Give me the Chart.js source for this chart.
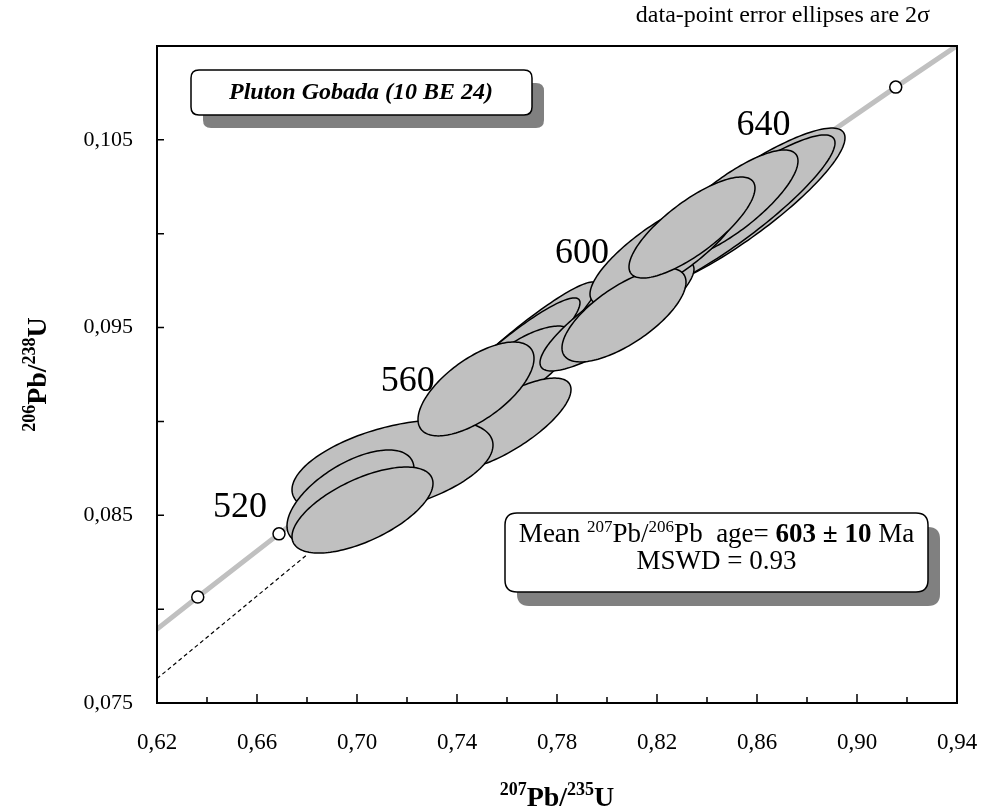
<!DOCTYPE html>
<html>
<head>
<meta charset="utf-8">
<script src="https://cdn.jsdelivr.net/npm/chart.js@4.4.0/dist/chart.umd.min.js"></script>
<style>
  html, body { margin: 0; padding: 0; background: #fff; }
  #wrap { width: 984px; height: 811px; position: relative; }
</style>
</head>
<body>
<div id="wrap"><canvas id="canvas"></canvas></div>
<script>
// concordia curve (age in Ma, 207Pb/235U, 206Pb/238U)
let concAges = [480, 500, 520, 540, 560, 580, 600, 620, 640, 660, 680];
let conc207 = [0.6044, 0.6363, 0.6688, 0.7020, 0.7359, 0.7704, 0.8056, 0.8416, 0.8782, 0.9155, 0.9537];
let conc206 = [0.07730, 0.08065, 0.08401, 0.08738, 0.09075, 0.09414, 0.09754, 0.10095, 0.10438, 0.10781, 0.11125];
let labelAges = [520, 560, 600, 640];

// zircon analyses, drawn back to front: ratio, 2 sigma, ratio, 2 sigma, rho
let r207 = [0.8512, 0.8492, 0.8492, 0.7598, 0.7572, 0.7660, 0.8040, 0.8232, 0.8068, 0.8340, 0.7594, 0.7142, 0.6974, 0.7022, 0.7476];
let e207 = [0.0440, 0.0420, 0.0272, 0.0362, 0.0320, 0.0208, 0.0308, 0.0300, 0.0248, 0.0252, 0.0262, 0.0402, 0.0254, 0.0282, 0.0232];
let r206 = [0.10126, 0.10100, 0.10153, 0.09322, 0.09285, 0.09298, 0.09562, 0.09913, 0.09567, 0.10033, 0.08986, 0.08755, 0.08595, 0.08528, 0.09173];
let e206 = [0.00437, 0.00426, 0.00293, 0.00421, 0.00373, 0.00210, 0.00293, 0.00293, 0.00250, 0.00269, 0.00245, 0.00253, 0.00253, 0.00229, 0.00250];
let rho = [0.88, 0.90, 0.80, 0.95, 0.93, 0.70, 0.85, 0.80, 0.70, 0.78, 0.75, 0.47, 0.60, 0.62, 0.65];

// dashed reference line
let dash207 = [0.62, 0.68];
let dash206 = [0.0763, 0.0829];

let xTickLabels = ['0,62', '0,66', '0,70', '0,74', '0,78', '0,82', '0,86', '0,90', '0,94'];
let yTickLabels = ['0,075', '0,085', '0,095', '0,105'];

let serif = '"Liberation Serif", "Times New Roman", serif';

let drawRich = function(ctx, parts, x, y) {
  let w = 0;
  for (let p of parts) { ctx.font = p.f; w += ctx.measureText(p.t).width; }
  let cx = x - w / 2;
  ctx.textAlign = 'left';
  ctx.textBaseline = 'alphabetic';
  for (let p of parts) {
    ctx.font = p.f;
    ctx.fillText(p.t, cx, y + (p.dy || 0));
    cx += ctx.measureText(p.t).width;
  }
}

let roundBox = function(ctx, x, y, w, h, r) {
  ctx.beginPath();
  ctx.moveTo(x + r, y);
  ctx.lineTo(x + w - r, y);
  ctx.quadraticCurveTo(x + w, y, x + w, y + r);
  ctx.lineTo(x + w, y + h - r);
  ctx.quadraticCurveTo(x + w, y + h, x + w - r, y + h);
  ctx.lineTo(x + r, y + h);
  ctx.quadraticCurveTo(x, y + h, x, y + h - r);
  ctx.lineTo(x, y + r);
  ctx.quadraticCurveTo(x, y, x + r, y);
  ctx.closePath();
}

let statParts = function() {
  return [
    { t: 'Mean ', f: '27px ' + serif },
    { t: '207', f: '17px ' + serif, dy: -10 },
    { t: 'Pb/', f: '27px ' + serif },
    { t: '206', f: '17px ' + serif, dy: -10 },
    { t: 'Pb  age= ', f: '27px ' + serif },
    { t: '603 \u00b1 10', f: 'bold 27px ' + serif },
    { t: ' Ma', f: '27px ' + serif }
  ];
}

let overlay = {
  id: 'overlay',
  afterDatasetsDraw(chart) {
    let ctx = chart.ctx, xs = chart.scales.x, ys = chart.scales.y, a = chart.chartArea;
    ctx.save();
    ctx.beginPath();
    ctx.rect(a.left, a.top, a.width, a.height);
    ctx.clip();
    // error ellipses
    for (let i = 0; i < r207.length; i++) {
      let c = Math.sqrt(1 - rho[i] * rho[i]);
      ctx.beginPath();
      for (let k = 0; k <= 160; k++) {
        let t = k / 160 * 2 * Math.PI;
        let px = xs.getPixelForValue(r207[i] + e207[i] * Math.cos(t));
        let py = ys.getPixelForValue(r206[i] + e206[i] * (rho[i] * Math.cos(t) + c * Math.sin(t)));
        if (k === 0) ctx.moveTo(px, py); else ctx.lineTo(px, py);
      }
      ctx.closePath();
      ctx.fillStyle = '#c0c0c0';
      ctx.fill();
      ctx.lineWidth = 1.5;
      ctx.strokeStyle = '#000';
      ctx.stroke();
    }
    ctx.restore();

    // age labels on the concordia
    ctx.save();
    ctx.fillStyle = '#000';
    ctx.font = '36px ' + serif;
    ctx.textAlign = 'center';
    ctx.textBaseline = 'middle';
    for (let age of labelAges) {
      let i = concAges.indexOf(age);
      let px = xs.getPixelForValue(conc207[i]);
      let py = ys.getPixelForValue(conc206[i]);
      ctx.fillText(String(age), px - 39, py - 26);
    }
    ctx.restore();
  },
  afterDraw(chart) {
    let ctx = chart.ctx, xs = chart.scales.x, ys = chart.scales.y, a = chart.chartArea;
    ctx.save();
    // frame
    ctx.strokeStyle = '#000';
    ctx.lineWidth = 2;
    ctx.strokeRect(a.left, a.top, a.width, a.height);
    // inward ticks
    ctx.lineWidth = 1.5;
    ctx.beginPath();
    for (let t of xs.ticks) {
      let px = xs.getPixelForValue(t.value);
      let major = Math.round(t.value * 100) % 4 === 2;
      ctx.moveTo(px, a.bottom);
      ctx.lineTo(px, a.bottom - (major ? 9 : 6));
    }
    for (let t of ys.ticks) {
      let py = ys.getPixelForValue(t.value);
      ctx.moveTo(a.left, py);
      ctx.lineTo(a.left + 7, py);
    }
    ctx.stroke();

    // title box
    ctx.fillStyle = '#808080';
    roundBox(ctx, 203, 83, 341, 45, 8);
    ctx.fill();
    ctx.fillStyle = '#fff';
    roundBox(ctx, 191, 70, 341, 45, 8);
    ctx.fill();
    ctx.lineWidth = 1.5;
    ctx.stroke();
    ctx.fillStyle = '#000';
    ctx.font = 'italic bold 24px ' + serif;
    ctx.textAlign = 'center';
    ctx.textBaseline = 'middle';
    ctx.fillText('Pluton Gobada (10 BE 24)', 361, 93);

    // stats box with its shadow
    ctx.fillStyle = '#808080';
    roundBox(ctx, 517, 527, 423, 79, 12);
    ctx.fill();
    ctx.fillStyle = '#555';
    drawRich(ctx, statParts(), 728.5, 556);
    ctx.font = '27px ' + serif;
    ctx.textAlign = 'center';
    ctx.fillText('MSWD = 0.93', 728.5, 583);
    ctx.fillStyle = '#fff';
    roundBox(ctx, 505, 513, 423, 79, 12);
    ctx.fill();
    ctx.strokeStyle = '#000';
    ctx.stroke();
    ctx.fillStyle = '#000';
    drawRich(ctx, statParts(), 716.5, 542);
    ctx.font = '27px ' + serif;
    ctx.textAlign = 'center';
    ctx.fillText('MSWD = 0.93', 716.5, 569);

    // note at top right
    ctx.font = '24px ' + serif;
    ctx.textAlign = 'right';
    ctx.textBaseline = 'alphabetic';
    ctx.fillText('data-point error ellipses are 2\u03c3', 930, 22);

    // axis titles
    let big = 'bold 28px ' + serif, sup = 'bold 18px ' + serif;
    drawRich(ctx, [
      { t: '207', f: sup, dy: -11 }, { t: 'Pb/', f: big },
      { t: '235', f: sup, dy: -11 }, { t: 'U', f: big }
    ], (a.left + a.right) / 2, 806);
    ctx.translate(46, (a.top + a.bottom) / 2);
    ctx.rotate(-Math.PI / 2);
    drawRich(ctx, [
      { t: '206', f: sup, dy: -11 }, { t: 'Pb/', f: big },
      { t: '238', f: sup, dy: -11 }, { t: 'U', f: big }
    ], 0, 0);
    ctx.restore();
  }
};

let renderChart = function() {
  let ctx = document.getElementById('canvas').getContext('2d');
  let concPoints = concAges.map((age, i) => ({ x: conc207[i], y: conc206[i] }));
  let dashPoints = dash207.map((v, i) => ({ x: v, y: dash206[i] }));

  window.my_chart = new Chart(ctx, {
    type: 'scatter',
    data: {
      datasets: [
        {
          label: 'Dashed',
          data: dashPoints,
          showLine: true,
          borderColor: '#000',
          borderWidth: 1.2,
          borderDash: [4, 3],
          pointRadius: 0
        },
        {
          label: 'Concordia',
          data: concPoints,
          showLine: true,
          borderColor: '#c0c0c0',
          borderWidth: 5,
          pointRadius: 6,
          pointBackgroundColor: '#fff',
          pointBorderColor: '#000',
          pointBorderWidth: 1.5
        }
      ]
    },
    options: {
      responsive: true,
      maintainAspectRatio: false,
      animation: false,
      events: [],
      layout: { padding: { top: 46, right: 27, left: 0, bottom: 0 } },
      plugins: {
        legend: { display: false },
        tooltip: { enabled: false }
      },
      scales: {
        x: {
          type: 'linear',
          min: 0.62,
          max: 0.94,
          grid: { display: false, drawTicks: false },
          border: { display: false },
          afterFit: s => { s.height = 108; s.paddingLeft = 0; s.paddingRight = 0; },
          ticks: {
            stepSize: 0.02,
            autoSkip: false,
            maxRotation: 0,
            padding: 26,
            color: '#000',
            font: { family: serif, size: 23 },
            callback: v => {
              let s = v.toFixed(2).replace('.', ',');
              return xTickLabels.includes(s) ? s : '';
            }
          }
        },
        y: {
          type: 'linear',
          min: 0.075,
          max: 0.11,
          grid: { display: false, drawTicks: false },
          border: { display: false },
          afterFit: s => { s.width = 157; s.paddingTop = 0; s.paddingBottom = 0; },
          ticks: {
            stepSize: 0.005,
            autoSkip: false,
            padding: 24,
            color: '#000',
            font: { family: serif, size: 22 },
            callback: v => {
              let s = v.toFixed(3).replace('.', ',');
              return yTickLabels.includes(s) ? s : '';
            }
          }
        }
      }
    },
    plugins: [overlay]
  });
}

renderChart();
</script>
</body>
</html>
